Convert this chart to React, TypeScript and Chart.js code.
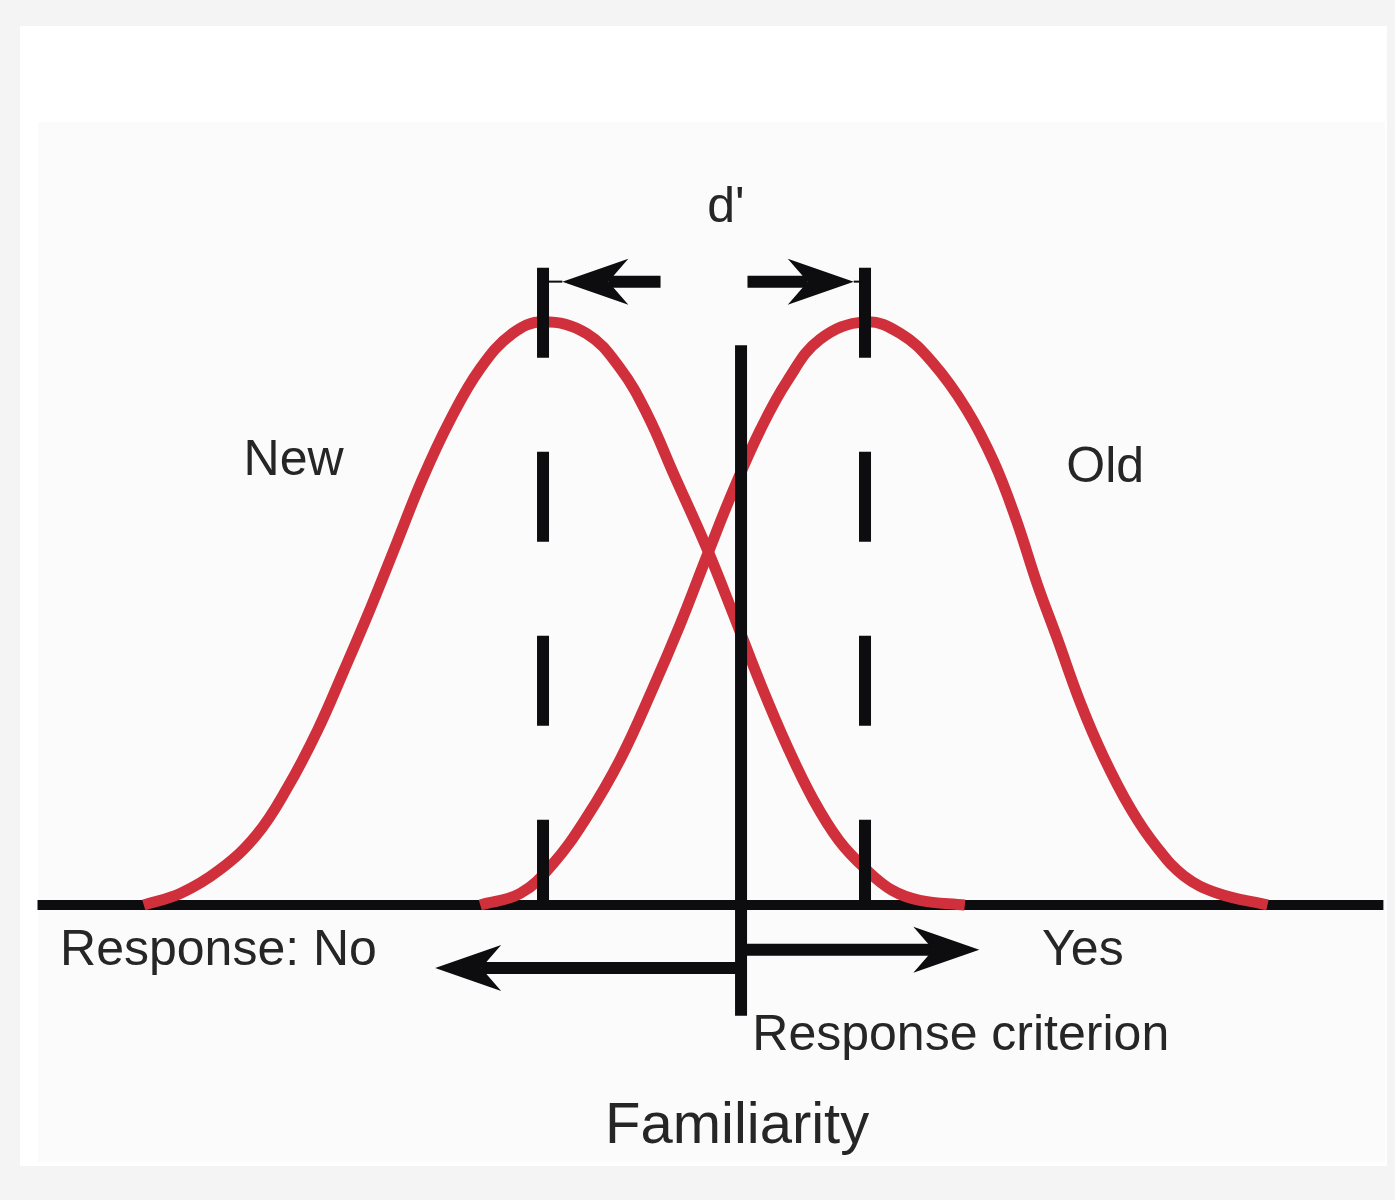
import React, { useEffect, useRef } from 'react';
import { Chart, registerables } from 'chart.js';

Chart.register(...registerables);

// Scale ranges (familiarity units; relative density with peak = 1)
const X_MIN = -4.373;
const X_MAX = 4.292;
const Y_MIN = -0.506;
const Y_MAX = 1.552;

// "New" item distribution
const NEW_X = [-3.48, -3.25, -3.01, -2.78, -2.59, -2.4, -2.24, -2.07, -1.91, -1.75, -1.58, -1.39, -1.19, -1.0, -0.73, -0.52, -0.35, -0.19, 0.02, 0.18, 0.35, 0.52, 0.68, 0.84, 1.01, 1.17, 1.34, 1.62];
const NEW_Y = [0, 0.02, 0.06, 0.12, 0.2, 0.3, 0.4, 0.51, 0.62, 0.73, 0.83, 0.92, 0.98, 1.0, 0.98, 0.92, 0.84, 0.74, 0.61, 0.5, 0.38, 0.27, 0.18, 0.11, 0.06, 0.025, 0.008, 0];

// "Old" item distribution
const OLD_X = [-1.39, -1.14, -0.94, -0.73, -0.52, -0.32, -0.15, 0.02, 0.18, 0.35, 0.52, 0.72, 1.0, 1.22, 1.42, 1.63, 1.8, 1.94, 2.07, 2.19, 2.34, 2.48, 2.65, 2.81, 2.98, 3.19, 3.5];
const OLD_Y = [0, 0.02, 0.07, 0.15, 0.25, 0.37, 0.48, 0.6, 0.71, 0.815, 0.9, 0.97, 1.0, 0.98, 0.93, 0.85, 0.76, 0.66, 0.55, 0.46, 0.345, 0.255, 0.165, 0.1, 0.05, 0.02, 0];

// Axis line, means and criterion
const BASELINE_X = [-4.14, 4.22];
const MEAN_X = [-1.0, 1.0];
const MEAN_LINE_TOP = 1.093;
const CRITERION_X = 0.23;
const CRITERION_Y = [0.96, -0.19];

// Arrows: start, tip, y, optional link to the mean line
const ARROW_START_X = [-0.27, 0.27, 0.23, 0.23];
const ARROW_TIP_X = [-0.88, 0.93, -1.67, 1.71];
const ARROW_Y = [1.069, 1.069, -0.108, -0.077];
const ARROW_LINK_X: (number | null)[] = [-1.0, 1.0, null, null];

// Labels
const LABELS = ["d'", 'New', 'Old', 'Response: No', 'Yes', 'Response criterion', 'Familiarity'];
const LABEL_X = [0.02, -2.86, 2.25, -4.0, 2.1, 0.3, -0.615];
const LABEL_Y = [1.171, 0.738, 0.726, -0.103, -0.103, -0.249, -0.408];
const LABEL_SIZE = [50, 50, 50, 50, 50, 50, 58];

const RED = '#d0303b';
const INK = '#0d0d0f';
const TEXT = '#262626';

const toPoints = (xs: number[], ys: number[]) => xs.map((x, i) => ({ x, y: ys[i] }));

const backgroundPlugin = {
  id: 'bg',
  beforeDraw(chart: any) {
    const { ctx, width, height } = chart;
    ctx.save();
    ctx.fillStyle = '#f4f4f4';
    ctx.fillRect(0, 0, width, height);
    ctx.fillStyle = '#ffffff';
    ctx.fillRect(20, 26, width - 28, height - 60);
    ctx.fillStyle = '#fbfbfb';
    ctx.fillRect(38, 122, width - 48, height - 160);
    ctx.restore();
  },
};

const arrowPlugin = {
  id: 'arrows',
  afterDatasetsDraw(chart: any) {
    const { ctx } = chart;
    const xs = chart.scales.x;
    const ys = chart.scales.y;
    ctx.save();
    ctx.fillStyle = INK;
    ctx.strokeStyle = INK;
    ctx.lineCap = 'butt';
    for (let i = 0; i < ARROW_TIP_X.length; i++) {
      const sx = xs.getPixelForValue(ARROW_START_X[i]);
      const tx = xs.getPixelForValue(ARROW_TIP_X[i]);
      const py = ys.getPixelForValue(ARROW_Y[i]);
      const dir = Math.sign(tx - sx);
      const L = 66;
      const W = 23;
      const notch = 46;
      ctx.lineWidth = 12;
      ctx.beginPath();
      ctx.moveTo(sx, py);
      ctx.lineTo(tx - dir * notch, py);
      ctx.stroke();
      ctx.beginPath();
      ctx.moveTo(tx, py);
      ctx.lineTo(tx - dir * L, py - W);
      ctx.lineTo(tx - dir * notch, py);
      ctx.lineTo(tx - dir * L, py + W);
      ctx.closePath();
      ctx.fill();
      const link = ARROW_LINK_X[i];
      if (link !== null) {
        ctx.lineWidth = 2;
        ctx.beginPath();
        ctx.moveTo(tx, py);
        ctx.lineTo(xs.getPixelForValue(link), py);
        ctx.stroke();
      }
    }
    ctx.restore();
  },
};

const labelPlugin = {
  id: 'labels',
  afterDraw(chart: any) {
    const { ctx } = chart;
    const xs = chart.scales.x;
    const ys = chart.scales.y;
    ctx.save();
    ctx.fillStyle = TEXT;
    ctx.textAlign = 'left';
    ctx.textBaseline = 'alphabetic';
    LABELS.forEach((t, i) => {
      ctx.font = `${LABEL_SIZE[i]}px "Liberation Sans", Arial, sans-serif`;
      ctx.fillText(t, xs.getPixelForValue(LABEL_X[i]), ys.getPixelForValue(LABEL_Y[i]));
    });
    ctx.restore();
  },
};

export default function App() {
  const ref = useRef<HTMLCanvasElement | null>(null);

  useEffect(() => {
    if (!ref.current) return;
    const common = {
      pointRadius: 0,
      pointHoverRadius: 0,
      fill: false,
      clip: false as any,
      borderCapStyle: 'butt' as const,
    };
    const chart = new Chart(ref.current, {
      type: 'line',
      data: {
        datasets: [
          { ...common, label: 'axis', data: toPoints(BASELINE_X, [0, 0]), borderColor: INK, borderWidth: 10, order: 10 },
          { ...common, label: 'New', data: toPoints(NEW_X, NEW_Y), borderColor: RED, borderWidth: 11, tension: 0.4, borderJoinStyle: 'round', order: 5 },
          { ...common, label: 'Old', data: toPoints(OLD_X, OLD_Y), borderColor: RED, borderWidth: 11, tension: 0.4, borderJoinStyle: 'round', order: 5 },
          { ...common, label: 'New mean', data: toPoints([MEAN_X[0], MEAN_X[0]], [MEAN_LINE_TOP, 0]), borderColor: INK, borderWidth: 12, borderDash: [90, 94], order: 1 },
          { ...common, label: 'Old mean', data: toPoints([MEAN_X[1], MEAN_X[1]], [MEAN_LINE_TOP, 0]), borderColor: INK, borderWidth: 12, borderDash: [90, 94], order: 1 },
          { ...common, label: 'Criterion', data: toPoints([CRITERION_X, CRITERION_X], CRITERION_Y), borderColor: INK, borderWidth: 12, order: 1 },
        ],
      },
      options: {
        responsive: false,
        animation: false,
        events: [],
        layout: { padding: 0 },
        plugins: { legend: { display: false }, tooltip: { enabled: false } },
        scales: {
          x: { type: 'linear', display: false, min: X_MIN, max: X_MAX },
          y: { type: 'linear', display: false, min: Y_MIN, max: Y_MAX },
        },
      },
      plugins: [backgroundPlugin, arrowPlugin, labelPlugin],
    });
    return () => chart.destroy();
  }, []);

  return (
    <div style={{ position: 'absolute', left: 0, top: 0, width: 1395, height: 1200 }}>
      <canvas ref={ref} width={1395} height={1200} style={{ display: 'block' }} />
    </div>
  );
}
